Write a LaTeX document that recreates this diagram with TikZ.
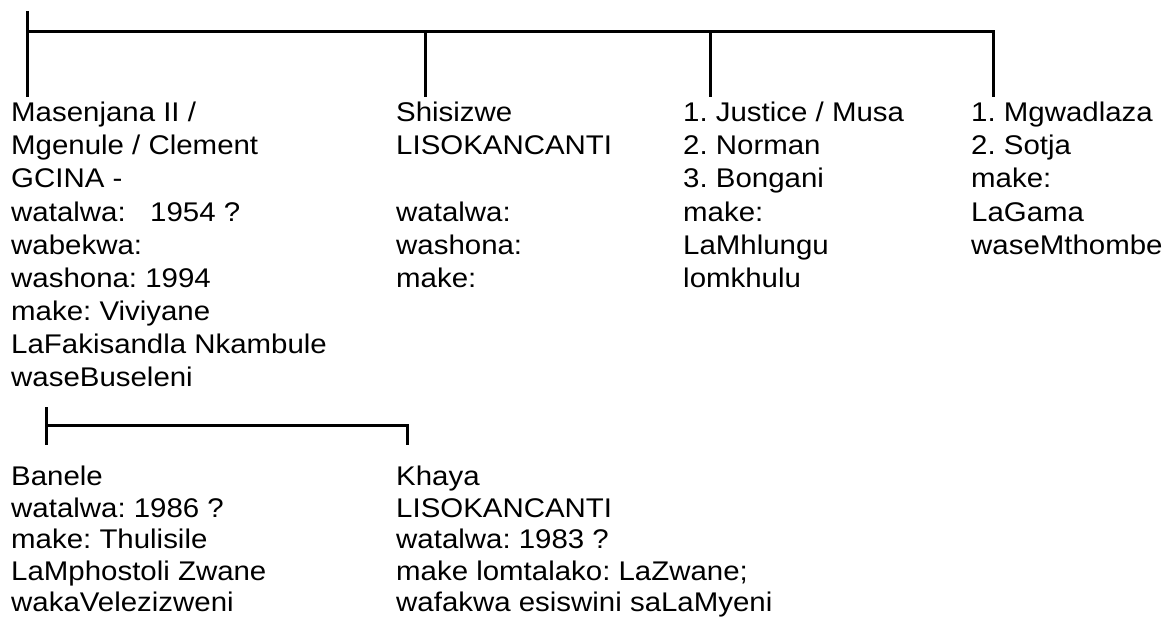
\documentclass[tikz,border=0pt]{standalone}
\usepackage{fontspec}
\setmainfont{Liberation Sans}
\frenchspacing
\begin{document}
\begin{tikzpicture}[x=1pt,y=-1pt,
    bar/.style={line width=3pt},
    person/.style={anchor=north west,inner sep=0pt,align=left,
      font=\fontsize{27}{33.1}\selectfont,xscale=1.09},
    child/.style={person,font=\fontsize{27}{31.5}\selectfont}]
    \useasboundingbox (0,0) rectangle (1171,626);

    % first generation
    \coordinate (t0) at (27,11);
    \coordinate (t1) at (27,32);
    \coordinate (t2) at (425,32);
    \coordinate (t3) at (710,32);
    \coordinate (t4) at (993,32);
    \coordinate (d1) at (27,97);
    \coordinate (d2) at (425,97);
    \coordinate (d3) at (710,97);
    \coordinate (d4) at (993,97);
    \draw[bar] (t0) -- (d1);
    \draw[bar] (t1) -- (t4) -- (d4);
    \draw[bar] (t2) -- (d2);
    \draw[bar] (t3) -- (d3);

    \node[person] (masenjana) at (11,102) {Masenjana II /\\Mgenule / Clement\\GCINA -\\watalwa:\ \ \ 1954 ?\\wabekwa:\\washona: 1994\\make: Viviyane\\LaFakisandla Nkambule\\waseBuseleni};
    \node[person] (shisizwe) at (396,102) {Shisizwe\\LISOKANCANTI\\\mbox{}\\watalwa:\\washona:\\make:};
    \node[person] (justice) at (683,102) {1. Justice / Musa\\2. Norman\\3. Bongani\\make:\\LaMhlungu\\lomkhulu};
    \node[person] (mgwadlaza) at (971,102) {1. Mgwadlaza\\2. Sotja\\make:\\LaGama\\waseMthombe};

    % second generation
    \coordinate (b0) at (46,407);
    \coordinate (b1) at (46,425);
    \coordinate (b2) at (407,425);
    \coordinate (e1) at (46,445);
    \coordinate (e2) at (407,445);
    \draw[bar] (b0) -- (e1);
    \draw[bar] (b1) -- (b2) -- (e2);

    \node[child] (banele) at (11,466) {Banele\\watalwa: 1986 ?\\make: Thulisile\\LaMphostoli Zwane\\wakaVelezizweni};
    \node[child] (khaya) at (396,466) {Khaya\\LISOKANCANTI\\watalwa: 1983 ?\\make lomtalako: LaZwane;\\wafakwa esiswini saLaMyeni};
\end{tikzpicture}
\end{document}
